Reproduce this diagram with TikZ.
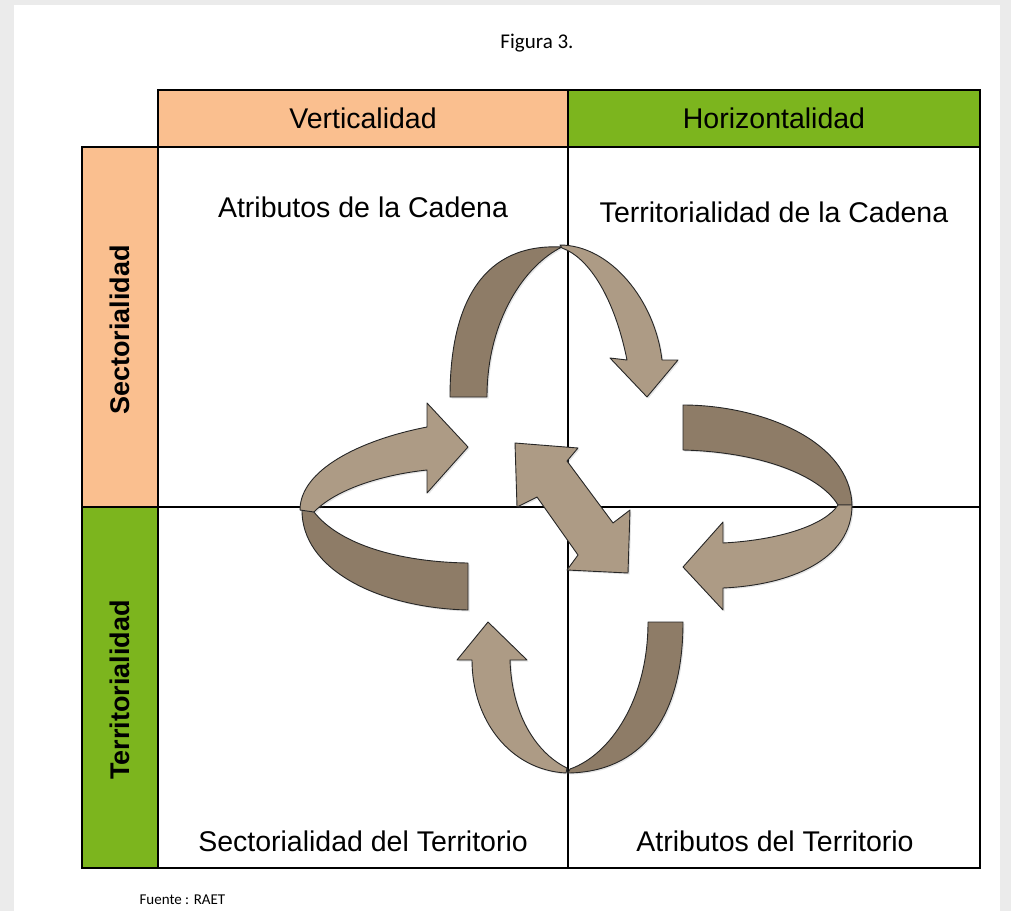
\documentclass[tikz,border=0pt]{standalone}
\usepackage{fontspec}
\setmainfont{Liberation Sans}
\newfontfamily\calibrifont{Carlito}
\usetikzlibrary{shadows}
\definecolor{peach}{HTML}{FABF8F}
\definecolor{leaf}{HTML}{7CB51E}
\definecolor{tanlight}{HTML}{AD9B85}
\definecolor{tandark}{HTML}{8E7C67}
\definecolor{pagegray}{HTML}{EBEBEB}

\begin{document}
\begin{tikzpicture}[x=1pt,y=-1pt,
		frame/.style={draw=black,line width=2.5pt},
		celltext/.style={font=\fontsize{28.5}{31}\selectfont},
		side/.style={font=\fontsize{27}{30}\selectfont\bfseries,rotate=90},
		ribbon/.style={draw=black!85,line width=0.9pt,line join=round,
			drop shadow={opacity=0.2,shadow xshift=1.5pt,shadow yshift=-1.5pt}}]
		% page
		\fill[pagegray] (0,0) rectangle (1011,911);
		\fill[white] (14,5) rectangle (1000,911);
		\node[font=\calibrifont\fontsize{21}{24}\selectfont] (fig) at (537,43) {Figura 3.};
		% header row and side column
		\filldraw[frame,fill=peach] (158,90) rectangle (568,147);
		\filldraw[frame,fill=leaf] (568,90) rectangle (980,147);
		\filldraw[frame,fill=peach] (82,147) rectangle (158,507);
		\filldraw[frame,fill=leaf] (82,507) rectangle (158,868);
		\draw[frame] (158,147) rectangle (980,868);
		\draw[frame] (568,147) -- (568,868);
		\draw[frame] (158,507) -- (980,507);
		\node[celltext] (vert) at (363,118) {Verticalidad};
		\node[celltext] (hori) at (774,118) {Horizontalidad};
		\node[side] (sect) at (120,330) {Sectorialidad};
		\node[side] (terr) at (120,690) {Territorialidad};
		% quadrant titles
		\node[celltext] (q1) at (363,207) {Atributos de la Cadena};
		\node[celltext] (q2) at (774,212) {Territorialidad de la Cadena};
		\node[celltext] (q3) at (363,841) {Sectorialidad del Territorio};
		\node[celltext] (q4) at (775,841) {Atributos del Territorio};
		% top arrow
		\filldraw[ribbon,fill=tandark] (450,397) -- (487,397) .. controls (487,320) and (525,265) .. (562,247)
			.. controls (485,243) and (450,300) .. (450,397) -- cycle;
		\filldraw[ribbon,fill=tanlight] (560,245) .. controls (610,245) and (655,300) .. (662,360)
			-- (678,360) -- (647,397) -- (610,358) -- (627,360)
			.. controls (615,300) and (590,258) .. (562,248) -- cycle;
		% left arrow
		\filldraw[ribbon,fill=tandark] (302,508) .. controls (300,570) and (380,608) .. (468,610)
			-- (468,563) .. controls (400,562) and (340,545) .. (314,512) -- cycle;
		\filldraw[ribbon,fill=tanlight] (300,510) .. controls (300,470) and (360,440) .. (427,427)
			-- (427,403) -- (468,447) -- (427,493) -- (427,470)
			.. controls (380,475) and (335,490) .. (314,512) -- cycle;
		% right arrow
		\filldraw[ribbon,fill=tandark] (683,405) .. controls (760,405) and (850,440) .. (852,505)
			-- (838,505) .. controls (820,475) and (760,452) .. (683,450) -- cycle;
		\filldraw[ribbon,fill=tanlight] (852,505) .. controls (852,560) and (790,585) .. (723,588)
			-- (723,610) -- (683,567) -- (723,522) -- (723,543)
			.. controls (780,540) and (825,525) .. (838,505) -- cycle;
		% bottom arrow
		\filldraw[ribbon,fill=tandark] (683,622) .. controls (683,720) and (640,772) .. (568,773)
			-- (570,769) .. controls (610,755) and (648,700) .. (648,622) -- cycle;
		\filldraw[ribbon,fill=tanlight] (566,773) .. controls (510,770) and (472,720) .. (472,660)
			-- (457,660) -- (488,622) -- (527,660) -- (510,660)
			.. controls (512,720) and (540,755) .. (567,768) -- cycle;
		% middle double arrow
		\filldraw[ribbon,fill=tanlight] (515,443) -- (578,448) -- (567,461) -- (613,523) -- (630,510)
			-- (628,573) -- (567,570) -- (578,555) -- (537,497) -- (517,507) -- cycle;
		\node[font=\calibrifont\fontsize{15}{17}\selectfont,anchor=west] (src) at (136,900) {Fuente : RAET};
	\end{tikzpicture}
\end{document}
